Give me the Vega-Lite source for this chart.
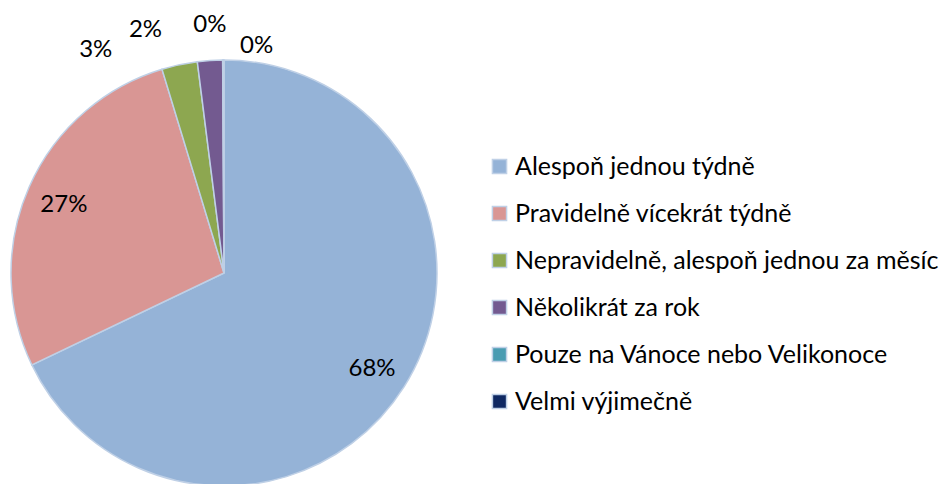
{
  "$schema": "https://vega.github.io/schema/vega-lite/v6.json",
  "width": 448,
  "height": 546,
  "autosize": {"type": "none"},
  "padding": {"left": 0, "top": 0, "right": 494, "bottom": 0},
  "background": "white",
  "config": {"view": {"stroke": null}, "font": "Lato"},
  "data": {"values": [
    {"cat": "Alespoň jednou týdně", "share": 0.679, "rank": 1},
    {"cat": "Pravidelně vícekrát týdně", "share": 0.274, "rank": 2},
    {"cat": "Nepravidelně, alespoň jednou za měsíc", "share": 0.027, "rank": 3},
    {"cat": "Několikrát za rok", "share": 0.019, "rank": 4},
    {"cat": "Pouze na Vánoce nebo Velikonoce", "share": 0.0005, "rank": 5},
    {"cat": "Velmi výjimečně", "share": 0.0005, "rank": 6}
  ]},
  "encoding": {
    "theta": {"field": "share", "type": "quantitative", "stack": true},
    "order": {"field": "rank", "type": "quantitative"}
  },
  "layer": [
    {
      "mark": {"type": "arc", "outerRadius": 213, "stroke": "#BFD0E6", "strokeWidth": 1.5},
      "encoding": {
        "color": {
          "field": "cat", "type": "nominal",
          "scale": {
            "domain": ["Alespoň jednou týdně", "Pravidelně vícekrát týdně", "Nepravidelně, alespoň jednou za měsíc", "Několikrát za rok", "Pouze na Vánoce nebo Velikonoce", "Velmi výjimečně"],
            "range": ["#95B3D7", "#D99694", "#8DA750", "#735A90", "#4A9CB2", "#0F2862"]
          },
          "legend": {
            "title": null,
            "orient": "none",
            "legendX": 487,
            "legendY": 154,
            "symbolType": "square",
            "symbolSize": 200,
            "symbolStrokeColor": "#BFD0E6",
            "symbolStrokeWidth": 1.5,
            "symbolOpacity": 1,
            "labelFont": "Lato",
            "labelFontSize": 25,
            "labelColor": "#000000",
            "labelOffset": 3,
            "labelLimit": 600,
            "rowPadding": 21
          }
        }
      }
    },
    {
      "mark": {"type": "text", "radius": 175, "dy": 3, "fontSize": 24, "font": "Lato", "color": "#000000", "align": "center", "baseline": "middle"},
      "encoding": {"text": {"condition": {"test": "datum.rank <= 2", "field": "share", "type": "quantitative", "format": ".0%"}, "value": ""}}
    },
    {
      "mark": {"type": "text", "radius": 250, "dx": -76, "dy": 21, "fontSize": 24, "font": "Lato", "color": "#000000", "align": "center", "baseline": "middle"},
      "encoding": {"text": {"condition": {"test": "datum.rank == 3", "field": "share", "type": "quantitative", "format": ".0%"}, "value": ""}}
    },
    {
      "mark": {"type": "text", "radius": 250, "dx": -62, "dy": 6, "fontSize": 24, "font": "Lato", "color": "#000000", "align": "center", "baseline": "middle"},
      "encoding": {"text": {"condition": {"test": "datum.rank == 4", "field": "share", "type": "quantitative", "format": ".0%"}, "value": ""}}
    },
    {
      "mark": {"type": "text", "radius": 250, "dx": -13, "dy": 2, "fontSize": 24, "font": "Lato", "color": "#000000", "align": "center", "baseline": "middle"},
      "encoding": {"text": {"condition": {"test": "datum.rank == 5", "field": "share", "type": "quantitative", "format": ".0%"}, "value": ""}}
    },
    {
      "mark": {"type": "text", "radius": 250, "dx": 33, "dy": 23, "fontSize": 24, "font": "Lato", "color": "#000000", "align": "center", "baseline": "middle"},
      "encoding": {"text": {"condition": {"test": "datum.rank == 6", "field": "share", "type": "quantitative", "format": ".0%"}, "value": ""}}
    }
  ]
}
